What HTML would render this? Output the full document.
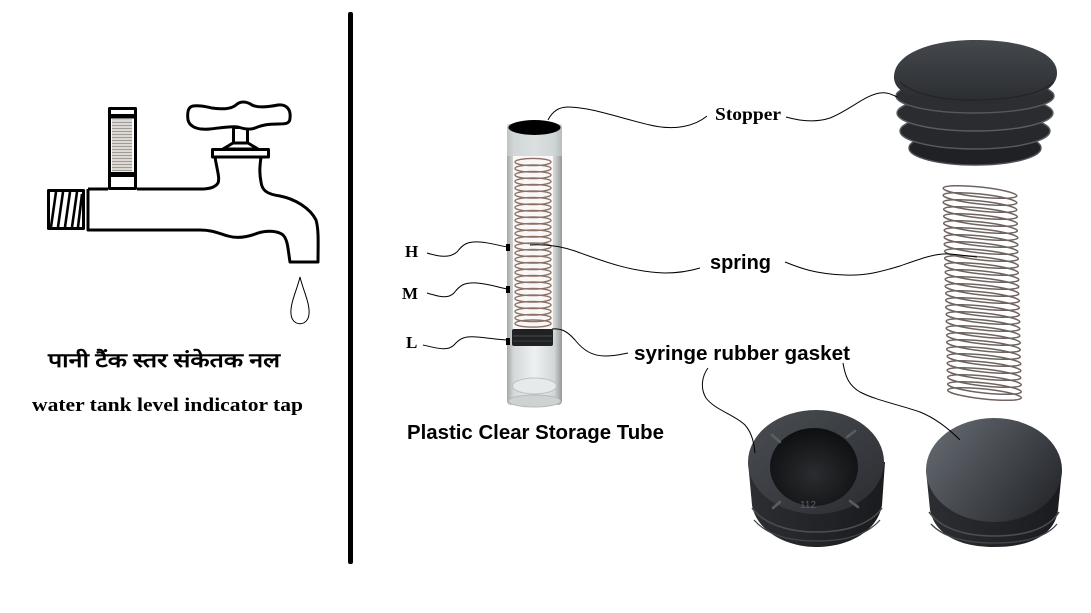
<!DOCTYPE html>
<html><head><meta charset="utf-8">
<style>
html,body{margin:0;padding:0;background:#fff;}
svg{display:block}
.serif{font-family:"Liberation Serif",serif;font-weight:bold;fill:#000}
.sans{font-family:"Liberation Sans",sans-serif;font-weight:bold;fill:#000}
</style></head>
<body>
<svg width="1091" height="613" viewBox="0 0 1091 613" xmlns="http://www.w3.org/2000/svg">
<defs>
 <linearGradient id="tubeG" x1="0" x2="1" y1="0" y2="0">
  <stop offset="0" stop-color="#a4a8a8"/>
  <stop offset="0.12" stop-color="#d4d8d8"/>
  <stop offset="0.5" stop-color="#eef1f1"/>
  <stop offset="0.86" stop-color="#d2d6d6"/>
  <stop offset="1" stop-color="#949898"/>
 </linearGradient>
 <pattern id="coilP" width="4" height="3" patternUnits="userSpaceOnUse">
  <rect width="4" height="3" fill="#dcd8d3"/><rect y="2" width="4" height="1" fill="#a29a94"/>
 </pattern>
 <linearGradient id="domeG" x1="0" x2="0" y1="0" y2="1">
  <stop offset="0" stop-color="#45484c"/>
  <stop offset="0.6" stop-color="#34373b"/>
  <stop offset="1" stop-color="#2a2c30"/>
 </linearGradient>
 <linearGradient id="bodyG" x1="0" x2="1" y1="0" y2="0">
  <stop offset="0" stop-color="#2c2e32"/>
  <stop offset="0.5" stop-color="#222427"/>
  <stop offset="1" stop-color="#1a1b1e"/>
 </linearGradient>
 <linearGradient id="faceL" x1="0" x2="1" y1="0" y2="1">
  <stop offset="0" stop-color="#4a4e53"/>
  <stop offset="1" stop-color="#2a2c30"/>
 </linearGradient>
 <radialGradient id="bowlG" cx="0.5" cy="0.6" r="0.6">
  <stop offset="0" stop-color="#2a2c2f"/>
  <stop offset="1" stop-color="#0e0f11"/>
 </radialGradient>
 <linearGradient id="faceR" x1="0" x2="1" y1="0.2" y2="0.8">
  <stop offset="0" stop-color="#636870"/>
  <stop offset="0.45" stop-color="#474b50"/>
  <stop offset="1" stop-color="#24262a"/>
 </linearGradient>
 <clipPath id="springClip"><rect x="925" y="180" width="97" height="225"/></clipPath>
 <ellipse id="coilR" cx="0" cy="0" rx="37" ry="5" fill="none" stroke="#6f6460" stroke-width="1.5" transform="rotate(6)"/>
 <ellipse id="coilT" cx="0" cy="0" rx="18" ry="3.6" fill="none" stroke="#8a7066" stroke-width="1.4"/>
</defs>

<!-- ===== LEFT: TAP ===== -->
<g fill="none" stroke="#000" stroke-width="3" stroke-linejoin="round">
 <rect x="48.5" y="190.5" width="35" height="38" fill="#fff"/>
 <g stroke-width="2.6">
  <line x1="51" y1="227" x2="56" y2="192"/>
  <line x1="58" y1="227" x2="63" y2="192"/>
  <line x1="65" y1="227" x2="70" y2="192"/>
  <line x1="72" y1="227" x2="77" y2="192"/>
  <line x1="78" y1="227" x2="82" y2="194"/>
 </g>
 <path d="M88,189 L108,189 M137,189 L200,189 C208,189 215,188 218,183 C220,178 217,170 215,157 M261,157 C260,165 259,172 261,182 C262,190 266,194 280,196 C295,199 310,208 316,220 C319,230 318,245 318,262 L290,262 C288,250 288,240 283,235 C278,231 268,230 258,233 C248,237 238,239 228,236 C218,233 212,230 200,230 L88,230 L88,189"/>
 <rect x="109.5" y="108.5" width="26" height="80" fill="#fff"/>
 <rect x="212.5" y="149.5" width="56" height="7.5" fill="#fff"/>
 <path d="M223,149 L233,143 L248,143 L258,149 Z" fill="#fff"/>
 <rect x="233.5" y="127.5" width="14" height="15.5" fill="#fff"/>
 <path d="M193,106 C200,105 207,107 212,108 C220,109 230,110 236,105 C240,101 246,101 252,105 C258,108 268,107 278,105 C287,104 291,110 290,118 C290,124 285,124 278,124 C268,124 262,125 255,128 C250,130 244,129 238,127 C230,126 220,128 210,129 C200,130 190,128 188,120 C187,112 188,107 193,106 Z" fill="#fff"/>
</g>
<rect x="111" y="114" width="23" height="4.5" fill="#000"/>
<rect x="112" y="119.5" width="20" height="52" fill="url(#coilP)"/>
<rect x="111" y="172" width="23" height="5" fill="#000"/>
<path d="M300,277 C297,290 290,303 291,314 C292,327 308,327 309,314 C310,303 303,290 300,277 Z" fill="none" stroke="#000" stroke-width="1"/>

<text class="serif" x="48" y="367" font-size="20" textLength="232" lengthAdjust="spacingAndGlyphs">पानी टैंक स्तर संकेतक नल</text>
<text class="serif" x="32" y="411" font-size="19" textLength="271" lengthAdjust="spacingAndGlyphs">water tank level indicator tap</text>

<rect x="348" y="12" width="5" height="552" rx="2" fill="#000"/>

<!-- ===== TUBE ===== -->
<rect x="507" y="124" width="55" height="281" rx="4" fill="url(#tubeG)"/>
<rect x="507" y="124" width="55" height="32" fill="#cfd3d3" opacity="0.6"/>
<ellipse cx="534.5" cy="401" rx="26" ry="6" fill="#cdd3d3" stroke="#b4baba"/>
<ellipse cx="534.5" cy="386" rx="22" ry="8" fill="#e6eaea" stroke="#bcc2c2"/>
<rect x="513" y="156" width="40" height="173" fill="#faf8f6"/>
<g>
 <use href="#coilT" x="533" y="162"/><use href="#coilT" x="533" y="168.5"/><use href="#coilT" x="533" y="175"/>
 <use href="#coilT" x="533" y="181.5"/><use href="#coilT" x="533" y="188"/><use href="#coilT" x="533" y="194.5"/>
 <use href="#coilT" x="533" y="201"/><use href="#coilT" x="533" y="207.5"/><use href="#coilT" x="533" y="214"/>
 <use href="#coilT" x="533" y="220.5"/><use href="#coilT" x="533" y="227"/><use href="#coilT" x="533" y="233.5"/>
 <use href="#coilT" x="533" y="240"/><use href="#coilT" x="533" y="246.5"/><use href="#coilT" x="533" y="253"/>
 <use href="#coilT" x="533" y="259.5"/><use href="#coilT" x="533" y="266"/><use href="#coilT" x="533" y="272.5"/>
 <use href="#coilT" x="533" y="279"/><use href="#coilT" x="533" y="285.5"/><use href="#coilT" x="533" y="292"/>
 <use href="#coilT" x="533" y="298.5"/><use href="#coilT" x="533" y="305"/><use href="#coilT" x="533" y="311.5"/>
 <use href="#coilT" x="533" y="318"/><use href="#coilT" x="533" y="323.5"/>
</g>
<rect x="512" y="329" width="41" height="17" rx="2" fill="#1f2123"/>
<line x1="513" y1="336" x2="552" y2="336" stroke="#4a4d50" stroke-width="1"/>
<line x1="513" y1="341" x2="552" y2="341" stroke="#3a3d40" stroke-width="1"/>
<ellipse cx="534.5" cy="127.5" rx="26" ry="7.5" fill="#000"/>
<rect x="506" y="244" width="4" height="7" fill="#000"/>
<rect x="506" y="286" width="4" height="7" fill="#000"/>
<rect x="506" y="338" width="4" height="7" fill="#000"/>

<text class="serif" x="405" y="257" font-size="17">H</text>
<text class="serif" x="402" y="299" font-size="17">M</text>
<text class="serif" x="406" y="348" font-size="17">L</text>
<text class="sans" x="407" y="439" font-size="20" textLength="257" lengthAdjust="spacingAndGlyphs">Plastic Clear Storage Tube</text>

<!-- ===== STOPPER ===== -->
<g stroke-width="1.4">
 <ellipse cx="975" cy="148" rx="66" ry="17" fill="#1f2124" stroke="#4c5055"/>
 <ellipse cx="975" cy="131" rx="75" ry="18" fill="#26282c" stroke="#575b60"/>
 <ellipse cx="975" cy="113" rx="78" ry="18" fill="#2a2c30" stroke="#5a5e63"/>
 <ellipse cx="975" cy="96" rx="79" ry="17" fill="#2c2e32" stroke="#55595e"/>
</g>
<path d="M894,78 C893,54 930,40 975,40 C1022,40 1058,52 1057,74 C1056,92 1028,104 975,104 C925,104 895,96 894,78 Z" fill="url(#domeG)"/>
<path d="M900,82 C912,94 940,100 975,100 C1010,100 1042,94 1053,82" fill="none" stroke="#222427" stroke-width="1.2"/>

<text class="serif" x="715" y="120" font-size="18" textLength="66" lengthAdjust="spacingAndGlyphs">Stopper</text>

<!-- ===== RIGHT SPRING ===== -->
<g clip-path="url(#springClip)">
 <use href="#coilR" x="980" y="192"/><use href="#coilR" x="980" y="199"/><use href="#coilR" x="980" y="206"/>
 <use href="#coilR" x="980.5" y="213"/><use href="#coilR" x="980.5" y="220"/><use href="#coilR" x="980.5" y="227"/>
 <use href="#coilR" x="981" y="234"/><use href="#coilR" x="981" y="241"/><use href="#coilR" x="981" y="248"/>
 <use href="#coilR" x="981.5" y="255"/><use href="#coilR" x="981.5" y="262"/><use href="#coilR" x="981.5" y="269"/>
 <use href="#coilR" x="982" y="276"/><use href="#coilR" x="982" y="283"/><use href="#coilR" x="982" y="290"/>
 <use href="#coilR" x="982.5" y="297"/><use href="#coilR" x="982.5" y="304"/><use href="#coilR" x="982.5" y="311"/>
 <use href="#coilR" x="983" y="318"/><use href="#coilR" x="983" y="325"/><use href="#coilR" x="983" y="332"/>
 <use href="#coilR" x="983.5" y="339"/><use href="#coilR" x="983.5" y="346"/><use href="#coilR" x="983.5" y="353"/>
 <use href="#coilR" x="984" y="360"/><use href="#coilR" x="984" y="367"/><use href="#coilR" x="984" y="374"/>
 <use href="#coilR" x="984.5" y="381"/><use href="#coilR" x="984.5" y="388"/><use href="#coilR" x="984.5" y="394"/>
</g>

<text class="sans" x="710" y="269" font-size="20" textLength="61" lengthAdjust="spacingAndGlyphs">spring</text>
<text class="sans" x="634" y="360" font-size="20" textLength="216" lengthAdjust="spacingAndGlyphs">syringe rubber gasket</text>

<!-- ===== GASKETS ===== -->
<path d="M748,462 L752,505 C756,530 785,547 816,547 C850,547 878,530 882,505 L885,462 Z" fill="url(#bodyG)"/>
<path d="M752,508 C765,525 790,532 816,532 C845,532 870,525 882,508" fill="none" stroke="#4a4d52" stroke-width="1.5"/>
<path d="M754,520 C768,536 792,541 816,541 C843,541 866,536 880,520" fill="none" stroke="#43464a" stroke-width="1.3"/>
<ellipse cx="816" cy="462" rx="68" ry="52" fill="url(#faceL)"/>
<ellipse cx="814" cy="467" rx="44" ry="39" fill="url(#bowlG)"/>
<g stroke="#5a5e63" stroke-width="2.5" stroke-linecap="round">
 <line x1="772" y1="435" x2="780" y2="442"/>
 <line x1="847" y1="437" x2="855" y2="431"/>
 <line x1="773" y1="508" x2="780" y2="502"/>
 <line x1="850" y1="501" x2="858" y2="507"/>
</g>
<text x="800" y="508" font-family="Liberation Sans, sans-serif" font-size="10" fill="#5a5e63">112</text>
<path d="M926,470 L930,510 C935,535 960,547 994,547 C1030,547 1055,535 1058,510 L1062,470 Z" fill="url(#bodyG)"/>
<path d="M929,512 C942,530 968,536 994,536 C1022,536 1048,530 1059,512" fill="none" stroke="#4a4d52" stroke-width="1.5"/>
<path d="M931,524 C945,539 970,543 994,543 C1020,543 1045,539 1057,524" fill="none" stroke="#43464a" stroke-width="1.3"/>
<ellipse cx="994" cy="470" rx="68" ry="52" fill="url(#faceR)"/>

<!-- ===== CONNECTORS ===== -->
<g fill="none" stroke="#000" stroke-width="1">
 <path d="M427,253 C440,257 450,258 457,252 C463,244 468,241 480,242 C492,243 500,246 508,247"/>
 <path d="M427,293 C440,297 448,299 454,293 C460,285 465,282 477,283 C490,284 500,288 508,289"/>
 <path d="M423,345 C440,349 448,351 454,345 C460,338 465,336 477,337 C490,338 500,340 508,340"/>
 <path d="M548,120 C552,112 558,107 568,107 C590,107 620,118 650,125 C675,131 695,126 707,116"/>
 <path d="M786,117 C800,121 815,123 830,118 C850,110 865,95 880,93 C888,92 893,95 897,97"/>
 <path d="M530,245 C545,244 560,246 575,251 C600,260 630,272 665,273 C680,273 690,271 700,268"/>
 <path d="M785,262 C800,268 815,274 845,275 C865,276 880,272 900,266 C920,259 935,253 950,254 C960,255 970,256 977,257"/>
 <path d="M552,329 C562,328 568,332 575,340 C583,350 592,356 605,356 C615,356 622,354 628,353"/>
 <path d="M708,368 C702,376 700,388 706,398 C715,410 735,415 745,425 C752,433 754,443 755,453"/>
 <path d="M843,363 C845,375 848,385 860,392 C875,400 900,405 920,412 C935,418 948,428 960,440"/>
</g>
</svg>
</body></html>
